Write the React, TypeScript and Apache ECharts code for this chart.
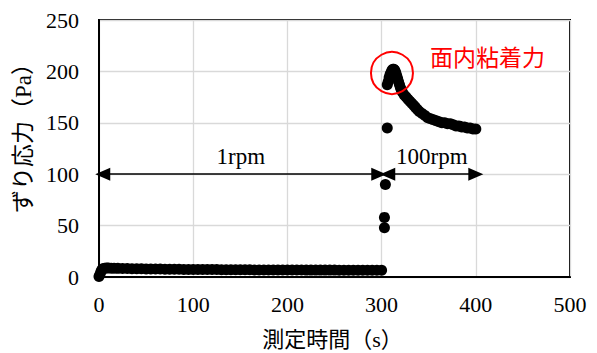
import React, { useEffect, useRef } from "react";
import * as echarts from "echarts";

// 1 rpm segment (time s, shear stress Pa)
const slowTime = [0, 1, 2, 3, 4, 6, 8, 10, 13, 16, 20, 25, 30, 35, 40, 45, 50, 55, 60, 65, 70, 75, 80, 85, 90, 95, 100, 105, 110, 115, 120, 125, 130, 135, 140, 145, 150, 155, 160, 165, 170, 175, 180, 185, 190, 195, 200, 205, 210, 215, 220, 225, 230, 235, 240, 245, 250, 255, 260, 265, 270, 275, 280, 285, 290, 295, 300];
const slowStress = [0.5, 2.5, 5, 7, 8, 8.5, 8.8, 8.8, 8.6, 8.5, 8.4, 8.3, 8.2, 8.1, 8.0, 8.0, 7.9, 7.8, 7.8, 7.7, 7.6, 7.6, 7.5, 7.5, 7.4, 7.4, 7.3, 7.3, 7.3, 7.2, 7.2, 7.2, 7.1, 7.1, 7.1, 7.0, 7.0, 7.0, 7.0, 6.9, 6.9, 6.9, 6.9, 6.9, 6.8, 6.8, 6.8, 6.8, 6.8, 6.8, 6.7, 6.7, 6.7, 6.7, 6.7, 6.7, 6.7, 6.6, 6.6, 6.6, 6.6, 6.6, 6.6, 6.6, 6.6, 6.5, 6.5];

// 100 rpm segment
const fastTime = [303, 303, 304, 306, 306, 307, 308, 309, 310, 311, 312, 313, 314, 315, 316, 317, 318, 319, 320, 321, 322, 324, 326, 328, 330, 332, 334, 336, 338, 340, 343, 346, 349, 352, 355, 358, 361, 364, 367, 370, 373, 376, 379, 382, 385, 388, 391, 394, 397, 400];
const fastStress = [48, 58, 90, 145, 187, 190, 194, 197, 199, 201, 202, 202, 201, 199, 196, 193, 190, 187, 184, 182, 180, 177, 175, 173, 171, 169, 167, 165, 163, 161, 159, 157, 155, 154, 153, 152, 151, 150, 150, 149, 149, 148, 147, 147, 146, 146, 145, 145, 144, 144];

// axis ticks
const xTicks = [0, 100, 200, 300, 400, 500];
const yTicks = [0, 50, 100, 150, 200, 250];

// annotations
const slowArrow = [4, 297];
const fastArrow = [306.5, 400];
const arrowLevel = 100;
const peakCircle = [311, 198.5];

const SERIF = "'Liberation Serif', 'Times New Roman', serif";
const MIXED = "'Liberation Serif', 'Noto Sans CJK JP', serif";
const GOTHIC = "'Noto Sans CJK JP', sans-serif";

export default function App() {
  const ref = useRef<HTMLDivElement>(null);
  useEffect(() => {
    document.body.style.margin = "0";
    if (!ref.current) return;
    const chart = echarts.init(ref.current, null, { renderer: "svg" });
    const arrowLabel = (text: string) => ({
      show: true,
      formatter: text,
      position: "insideMiddleTop",
      distance: 6,
      color: "#000",
      fontFamily: SERIF,
      fontSize: 23,
    });
    chart.setOption({
      animation: false,
      backgroundColor: "#fff",
      grid: {
        left: 99,
        right: 27,
        top: 20,
        bottom: 76,
        outerBoundsMode: "none",
        containLabel: false,
        show: true,
        borderColor: "#000",
        borderWidth: 2,
        backgroundColor: "transparent",
      },
      xAxis: {
        type: "value",
        min: xTicks[0],
        max: xTicks[xTicks.length - 1],
        interval: 100,
        name: "測定時間（s）",
        nameLocation: "middle",
        nameGap: 51,
        nameTextStyle: { fontFamily: MIXED, fontSize: 22, lineHeight: 22, color: "#000", padding: [0, 4, 0, 0] },
        axisLine: { show: true, lineStyle: { color: "#000", width: 2 } },
        axisTick: { show: false },
        axisLabel: { fontFamily: SERIF, fontSize: 22, color: "#000", margin: 16 },
        splitLine: { show: true, lineStyle: { color: "#d9d9d9", width: 1.3 } },
      },
      yAxis: {
        type: "value",
        min: yTicks[0],
        max: yTicks[yTicks.length - 1],
        interval: 50,
        name: "ずり応力（Pa）",
        nameLocation: "middle",
        nameGap: 60,
        nameTextStyle: { fontFamily: MIXED, fontSize: 23, color: "#000", padding: [0, 0, 0, 32] },
        axisLine: { show: true, lineStyle: { color: "#000", width: 2 } },
        axisTick: { show: false },
        axisLabel: { fontFamily: SERIF, fontSize: 22, color: "#000", margin: 20 },
        splitLine: { show: true, lineStyle: { color: "#d9d9d9", width: 1.3 } },
      },
      series: [
        {
          type: "scatter",
          symbol: "circle",
          symbolSize: 11,
          itemStyle: { color: "#000", opacity: 1 },
          data: slowTime.map((t, i) => [t, slowStress[i]]),
          markLine: {
            silent: true,
            symbol: ["triangle", "triangle"],
            symbolSize: [13, 15],
            lineStyle: { color: "#000", width: 1.5, type: "solid" },
            data: [
              [
                { coord: [slowArrow[0], arrowLevel], label: arrowLabel("1rpm") },
                { coord: [slowArrow[1], arrowLevel] },
              ],
              [
                { coord: [fastArrow[0], arrowLevel], label: arrowLabel("100rpm") },
                { coord: [fastArrow[1], arrowLevel] },
              ],
            ],
          },
        },
        {
          type: "scatter",
          symbol: "circle",
          symbolSize: 11,
          itemStyle: { color: "#000", opacity: 1 },
          data: fastTime.map((t, i) => [t, fastStress[i]]),
          markPoint: {
            silent: true,
            symbol: "circle",
            symbolSize: 42,
            itemStyle: { color: "transparent", borderColor: "#ff0000", borderWidth: 2 },
            label: { show: false },
            data: [{ coord: peakCircle }],
          },
        },
      ],
      graphic: [
        {
          type: "text",
          left: 430,
          top: 44,
          style: {
            text: "面内粘着力",
            fill: "#ff0000",
            fontFamily: GOTHIC,
            fontSize: 23,
          },
        },
      ],
    });
    return () => chart.dispose();
  }, []);
  return <div ref={ref} style={{ width: 597, height: 353 }} />;
}
